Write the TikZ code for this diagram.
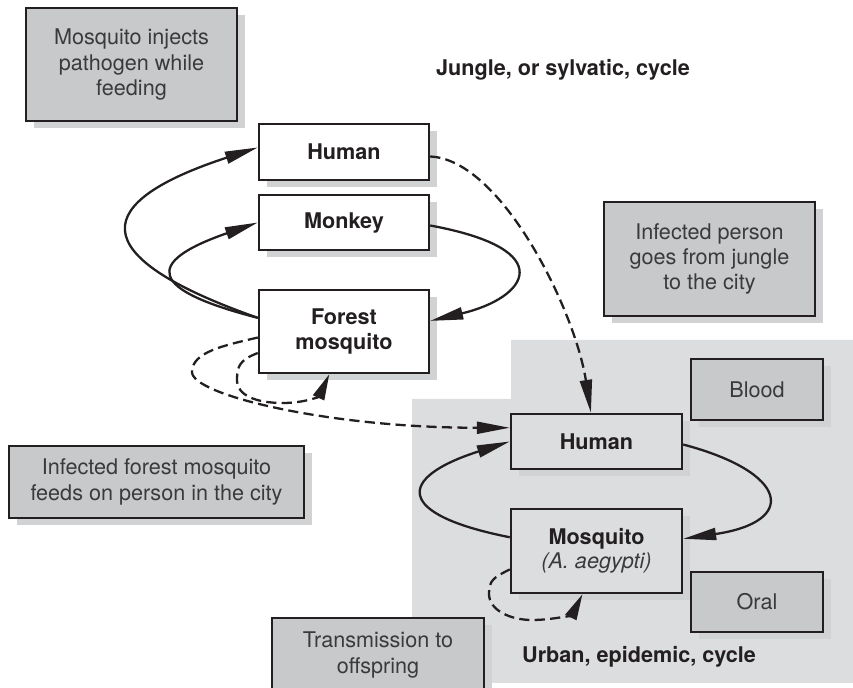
\documentclass[tikz,border=0pt]{standalone}
\usepackage{fontspec}
\setmainfont{TeX Gyre Heros}
\usetikzlibrary{arrows.meta,shadows}
\definecolor{cLn}{HTML}{231F20}
\definecolor{cNote}{HTML}{C8C9CB}
\definecolor{cCity}{HTML}{DCDDDF}
\definecolor{cShd}{HTML}{D1D2D4}
\definecolor{cTx}{HTML}{3A3A3A}
\tikzset{
  txt/.style={font=\fontsize{12.3}{14.4}\selectfont, align=center},
  shd/.style={drop shadow={shadow xshift=0.16cm, shadow yshift=-0.14cm, fill=cShd, opacity=1}},
  hostbox/.style={txt, draw=cLn, line width=1.4pt, fill=white, text=cLn, font=\fontsize{12.3}{14.4}\selectfont\bfseries, shd},
  citybox/.style={hostbox, fill=cCity, drop shadow={opacity=0}},
  notebox/.style={txt, draw=cLn, line width=1.4pt, fill=cNote, text=cTx, shd},
  cyclbl/.style={font=\fontsize{12.3}{14.4}\selectfont\bfseries, text=cLn},
  cyc/.style={line width=1.3pt, cLn, -{Triangle[length=0.66cm, width=0.24cm]}},
  cycd/.style={cyc, dash pattern=on 5.8pt off 3pt},
  loopd/.style={cycd, -{Triangle[length=0.52cm, width=0.24cm]}},
}

\begin{document}
\begin{tikzpicture}[x=0.02cm, y=-0.02cm]
\useasboundingbox (0,0) rectangle (853,688);
% city background
\fill[cCity] (511,340) -- (853,340) -- (853,683) -- (412,683) -- (412,399) -- (511,399) -- cycle;

% jungle cycle
\node[hostbox, minimum width=3.4cm, minimum height=1.12cm] (hj) at (344,152) {Human};
\node[hostbox, minimum width=3.4cm, minimum height=1.1cm] (mk) at (344,222.5) {Monkey};
\node[hostbox, minimum width=3.4cm, minimum height=1.66cm] (fm) at (344,331.5) {Forest\\mosquito};
\node[cyclbl] (jl) at (563,70) {Jungle, or sylvatic, cycle};

% urban cycle
\node[citybox, minimum width=3.42cm, minimum height=1.1cm] (hu) at (596.5,441.5) {Human};
\node[citybox, minimum width=3.42cm, minimum height=1.68cm] (aa) at (596.5,551) {Mosquito\\[-1pt]{\mdseries\itshape\color{cTx}(A.~aegypti)}};
\node[cyclbl] (ul) at (639,657) {Urban, epidemic, cycle};

% notes
\node[notebox, minimum width=4.22cm, minimum height=2.26cm] (inj) at (131.5,64.5) {Mosquito injects\\pathogen while\\feeding};
\node[notebox, minimum width=4.22cm, minimum height=2.28cm] (go) at (709.5,259) {Infected person\\goes from jungle\\to the city};
\node[notebox, minimum width=5.9cm, minimum height=1.44cm] (fd) at (156.5,482) {Infected forest mosquito\\feeds on person in the city};
\node[notebox, minimum width=4.24cm, minimum height=1.48cm] (off) at (378,655) {Transmission to\\offspring};
\node[notebox, drop shadow={opacity=0}, minimum width=2.64cm, minimum height=1.22cm] (bl) at (757,389.5) {Blood};
\node[notebox, drop shadow={opacity=0}, minimum width=2.64cm, minimum height=1.2cm] (or) at (757,602) {Oral};

% connectors
\draw[cyc] (fm.171) .. controls +(-179,-63) and +(-165,54) .. (hj.177);
\draw[cyc] (fm.171) .. controls +(-109,-28) and +(-115,40) .. (mk.180);
\draw[cyc] (mk.358) .. controls +(131,24) and +(97,-23) .. (fm.7);
\draw[cycd] (hj.357) .. controls +(71,3) and +(-16,-103) .. (hu.101);
\draw[cycd] (fm.184) .. controls +(-34,8) and +(0,-20) .. (192,372) .. controls +(0,23) and +(-181,0) .. (hu.171);
\draw[loopd] (fm.194) .. controls +(-18,7) and +(0,-14) .. (237,380) .. controls +(0,15) and +(-28,0) .. (283,403) .. controls +(22,0) and +(-10,22) .. (fm.251);
\draw[cyc] (hu.358) .. controls +(106,28) and +(115,-17) .. (aa.8);
\draw[cyc] (aa.171) .. controls +(-116,-23) and +(-113,36) .. (hu.180);
\draw[loopd] (aa.192) .. controls +(-16,8) and +(0,-14) .. (489,594) .. controls +(0,16) and +(-22,0) .. (532,620) .. controls +(22,0) and +(-10,20) .. (aa.252);
\end{tikzpicture}
\end{document}
